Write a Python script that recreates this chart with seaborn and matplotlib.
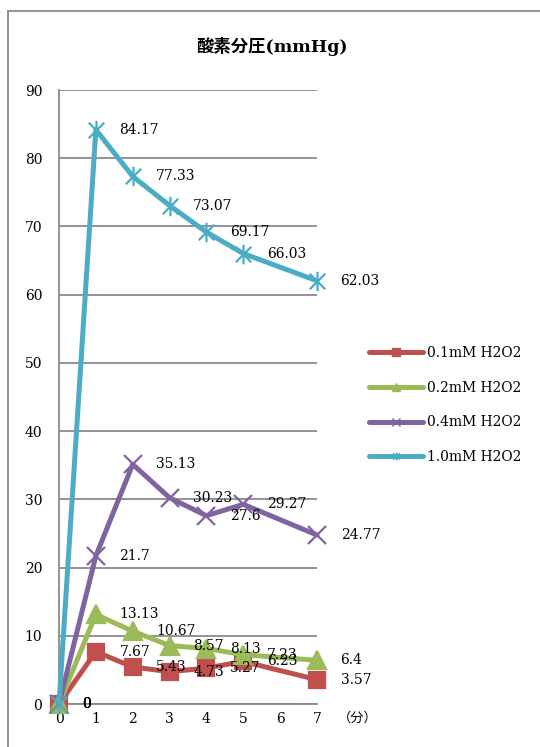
import pandas as pd
import matplotlib.pyplot as plt
import seaborn as sns
from matplotlib.lines import Line2D
from matplotlib.path import Path

# minutes with a measurement (no value at 6)
minutes = [0, 1, 2, 3, 4, 5, 7]
tick_minutes = [0, 1, 2, 3, 4, 5, 6, 7]

o2_01 = [0, 7.67, 5.43, 4.73, 5.27, 6.23, 3.57]
o2_02 = [0, 13.13, 10.67, 8.57, 8.13, 7.23, 6.4]
o2_04 = [0, 21.7, 35.13, 30.23, 27.6, 29.27, 24.77]
o2_10 = [0, 84.17, 77.33, 73.07, 69.17, 66.03, 62.03]

series_names = ['0.1mM H2O2', '0.2mM H2O2', '0.4mM H2O2', '1.0mM H2O2']
series_values = [o2_01, o2_02, o2_04, o2_10]

sns.set_theme(style='white')
plt.rcParams['font.family'] = ['DejaVu Serif', 'Noto Sans CJK JP']
plt.rcParams['text.color'] = 'black'

# asterisk marker: X plus a vertical stroke
star_path = Path([(-1, -1), (1, 1), (-1, 1), (1, -1), (0, -1.25), (0, 1.25)],
                 [Path.MOVETO, Path.LINETO, Path.MOVETO, Path.LINETO,
                  Path.MOVETO, Path.LINETO])

colors = ['#C0504D', '#9BBB59', '#8064A2', '#4BACC6']
markers = ['s', '^', 'x', star_path]
sizes = [12, 13, 13, 14]
grey = '#8a8a8a'

fig = plt.figure(figsize=(5.4, 7.47), dpi=100)
ax = fig.add_axes([59 / 540, 1 - 704 / 747, (317 - 59) / 540, (704 - 90) / 747])

for i, (name, vals) in enumerate(zip(series_names, series_values)):
    df = pd.DataFrame({'min': minutes, 'val': vals})
    sns.lineplot(data=df, x='min', y='val', ax=ax, color=colors[i],
                 linewidth=3.6, marker=markers[i], markersize=sizes[i],
                 markerfacecolor=colors[i], markeredgecolor=colors[i],
                 markeredgewidth=1.6, errorbar=None, legend=False,
                 clip_on=False, zorder=3 + i)
    for x, v in zip(minutes, vals):
        ax.annotate(f"{v:g}", (x, v), xytext=(17, 0), textcoords='offset points',
                    ha='left', va='center', fontsize=10, color='black',
                    annotation_clip=False, zorder=10)

ax.set_xlim(0, 7)
ax.set_ylim(0, 90)
ax.set_xticks(tick_minutes)
ax.set_yticks(range(0, 91, 10))
ax.set_xlabel('')
ax.set_ylabel('')
ax.yaxis.grid(True, color=grey, linewidth=1.3)
ax.xaxis.grid(False)
ax.set_axisbelow(True)
for side in ['top', 'right']:
    ax.spines[side].set_visible(False)
for side in ['left', 'bottom']:
    ax.spines[side].set_color(grey)
    ax.spines[side].set_linewidth(1.3)
ax.tick_params(axis='y', length=0, pad=12, labelsize=10, labelcolor='black')
ax.tick_params(axis='x', length=0, pad=6, labelsize=10, labelcolor='black')

fig.text(272 / 540, 1 - 46 / 747, '酸素分圧(mmHg)', ha='center', va='center',
         fontsize=12.5, fontweight='bold', color='black',
         family=['DejaVu Serif', 'Noto Sans CJK JP'])
fig.text(358 / 540, 1 - 718 / 747, '（分）', ha='center', va='center',
         fontsize=9.5, color='black', family=['Noto Sans CJK JP', 'DejaVu Sans'])

handles = [Line2D([], [], color=c, linewidth=3.6, marker=m, markersize=6,
                  markerfacecolor=c, markeredgecolor=c, markeredgewidth=1)
           for c, m in zip(colors, markers)]
leg = fig.legend(handles, series_names, loc='center left',
                 bbox_to_anchor=(356 / 540, 1 - 405 / 747), frameon=False,
                 fontsize=10, handlelength=3.9, handletextpad=0.3,
                 labelspacing=1.5)
for t in leg.get_texts():
    t.set_color('black')

# chart area border (only the top and left edges show)
fig.add_artist(Line2D([8 / 540, 8 / 540], [0, 1 - 11 / 747],
                      transform=fig.transFigure, color=grey, linewidth=1.3))
fig.add_artist(Line2D([8 / 540, 1], [1 - 11 / 747, 1 - 11 / 747],
                      transform=fig.transFigure, color=grey, linewidth=1.3))

fig.savefig('out.png', dpi=100)
